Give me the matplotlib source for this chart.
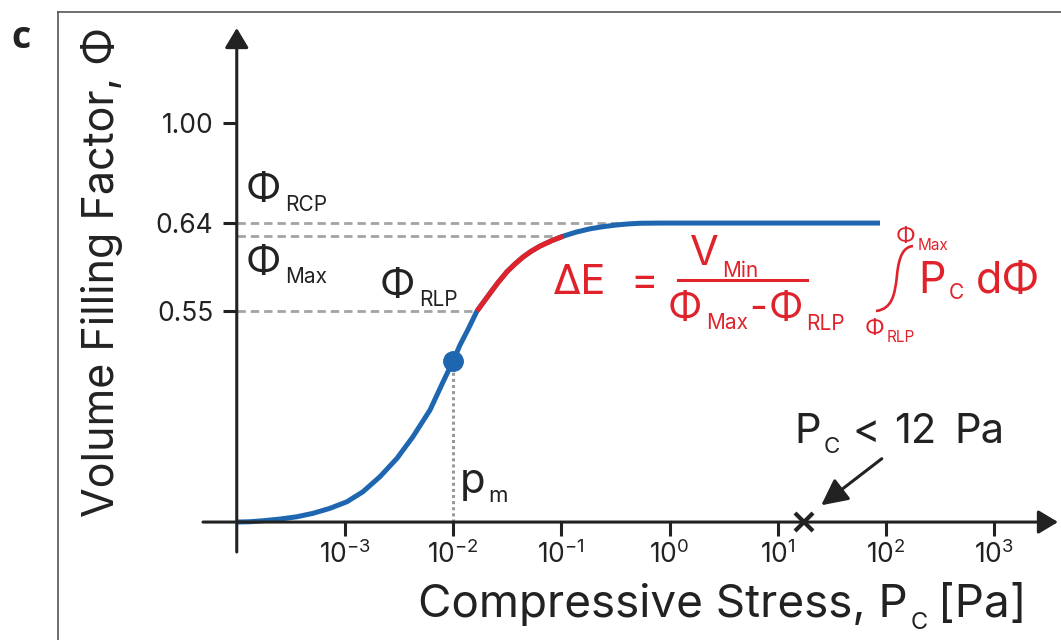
import numpy as np
import matplotlib
matplotlib.use("Agg")
import matplotlib.pyplot as plt
from matplotlib.lines import Line2D
from matplotlib.path import Path
from matplotlib.patches import PathPatch, FancyArrowPatch

# ---------------- data ----------------
stress_exp = [-4.0, -3.878, -3.758, -3.601, -3.444, -3.296, -3.139, -2.982, -2.834,
              -2.677, -2.519, -2.372, -2.214, -2.094, -2.0, -1.937, -1.863, -1.78,
              -1.66, -1.586, -1.503, -1.429, -1.355, -1.281, -1.198, -1.087, -0.985,
              -0.865, -0.736, -0.616, -0.486, -0.384, -0.274, -0.089, 1.945]
phi_curve = [0.0, 0.0008, 0.0034, 0.0078, 0.0138, 0.0227, 0.0357, 0.0529, 0.079,
             0.1181, 0.1661, 0.2224, 0.292, 0.365, 0.42, 0.4614, 0.5018, 0.55,
             0.5681, 0.5791, 0.5902, 0.5981, 0.6052, 0.611, 0.6164, 0.6221, 0.6265,
             0.6307, 0.6341, 0.6363, 0.6381, 0.6391, 0.6398, 0.64, 0.64]
PHI_RCP = 0.64
PHI_MAX = 0.6265
PHI_RLP = 0.55
P_M = 1e-2
PHI_M = 0.42
P_CRIT = 17.5
y_ticks = [0.55, 0.64, 1.00]
y_tick_labels = ["0.55", "0.64", "1.00"]
x_tick_exp = [-3, -2, -1, 0, 1, 2, 3]
x_tick_labels = [r"$\mathregular{10^{%d}}$" % e for e in x_tick_exp]

# schematic (broken) y axis of the original figure
SCALE_PHI = [-1.0, 0.0, 0.55, 0.64, 1.0, 2.0]
SCALE_POS = [-384.0, 0.0, 211.0, 299.0, 399.0, 677.0]

BLUE = "#1f66b0"
RED = "#e0232b"
BLACK = "#222222"
GRAY = "#a3a3a3"
FONT = ["Inter", "Liberation Sans", "DejaVu Sans"]

plt.rcParams["font.family"] = FONT
plt.rcParams["mathtext.fontset"] = "custom"
plt.rcParams["mathtext.rm"] = "Inter"
plt.rcParams["mathtext.default"] = "regular"

W, H = 1061, 640
fig = plt.figure(figsize=(W / 100, H / 100), dpi=100)
fig.patch.set_facecolor("white")
ax = fig.add_axes([203 / W, 1 - 552 / H, 855 / W, 524 / H])
ax.set_facecolor("none")

fwd = lambda v: np.interp(v, SCALE_PHI, SCALE_POS)
inv = lambda p: np.interp(p, SCALE_POS, SCALE_PHI)
ax.set_xscale("log")
ax.set_yscale("function", functions=(fwd, inv))
ax.set_xlim(10 ** -4.312, 10 ** 3.59)
ax.set_ylim(-0.078, 1.342)

P = 10.0 ** np.array(stress_exp)
phi = np.array(phi_curve)

for s in ax.spines.values():
    s.set_visible(False)
ax.spines["left"].set_position(("data", 1e-4))
ax.spines["bottom"].set_position(("data", 0.0))

ax.set_xticks(10.0 ** np.array(x_tick_exp))
ax.set_xticklabels(x_tick_labels)
ax.xaxis.set_minor_locator(matplotlib.ticker.NullLocator())
ax.set_yticks(y_ticks)
ax.set_yticklabels(y_tick_labels)
ax.yaxis.set_minor_locator(matplotlib.ticker.NullLocator())
ax.tick_params(axis="x", direction="out", length=10, width=2.2, color=BLACK,
               pad=3, labelsize=19, labelcolor=BLACK)
ax.tick_params(axis="y", direction="out", length=10, width=2.2, color=BLACK,
               pad=7, labelsize=19, labelcolor=BLACK)

# axis arrows
arrow_kw = dict(arrowstyle="-|>,head_length=0.6,head_width=0.36", lw=2.2,
                color=BLACK, mutation_scale=20, shrinkA=0, shrinkB=0)
ax.annotate("", xy=(1, 0), xytext=(0, 0), xycoords=("axes fraction", "data"),
            textcoords=("axes fraction", "data"), arrowprops=arrow_kw, zorder=5)
ax.annotate("", xy=(1e-4, 1), xytext=(1e-4, 0), xycoords=("data", "axes fraction"),
            textcoords=("data", "axes fraction"), arrowprops=arrow_kw, zorder=5)

# dashed reference lines from the y axis to the curve
for level in (PHI_RCP, PHI_MAX, PHI_RLP):
    p_end = 10 ** np.interp(level, phi[:-1], np.array(stress_exp)[:-1])
    ax.plot([1e-4, p_end], [level, level], color=GRAY, lw=2.0,
            dashes=(3, 1.8), zorder=2)
# dotted line at p_m
ax.plot([P_M, P_M], [0, PHI_M], color="#999999", lw=2.2, ls=(0, (1, 1)), zorder=2)

# curve
ax.plot(P, phi, color=BLUE, lw=3.6, solid_capstyle="butt",
        solid_joinstyle="round", zorder=3)
mask = (phi >= PHI_RLP) & (phi <= PHI_MAX)
ax.plot(P[mask], phi[mask], color=RED, lw=3.6, solid_capstyle="butt",
        solid_joinstyle="round", zorder=4)
ax.plot([P_M], [PHI_M], "o", ms=14, color=BLUE, zorder=5)

# critical stress marker
ax.plot([P_CRIT], [0], marker="x", ms=13, mew=3, color=BLACK, clip_on=False, zorder=6)

# ---------------- text & annotations (figure pixel coordinates) ----------------
def fx(x):
    return x / W

def fy(y):
    return 1 - y / H

def T(x, y, s, size, color=BLACK, ha="left", va="baseline", **kw):
    return fig.text(fx(x), fy(y), s, fontsize=size, color=color, ha=ha, va=va, **kw)

def chain(x, y, pieces, color=BLACK):
    """pieces: (text, size, baseline shift px (down +), gap px before)"""
    txt, size, dy, _ = pieces[0]
    prev = T(x, y + dy, txt, size, color=color)
    for txt, size, dy, gap in pieces[1:]:
        prev = ax.annotate(txt, xy=(1.0, fy(y + dy)), xycoords=(prev, "figure fraction"),
                           xytext=(gap, 0), textcoords="offset pixels",
                           fontsize=size, color=color, ha="left", va="baseline",
                           annotation_clip=False)
    return prev

# frame
fig.add_artist(Line2D([fx(58), fx(58)], [0, fy(12)], transform=fig.transFigure,
                      color="#555555", lw=1.2))
fig.add_artist(Line2D([fx(58), 1], [fy(12), fy(12)], transform=fig.transFigure,
                      color="#555555", lw=1.2))

T(11, 48, "c", 27, fontweight="bold", family=["Open Sans", "DejaVu Sans"])

# axis labels
T(102, 272, "Volume Filling Factor, Φ", 31, ha="center", va="center", rotation=90)
chain(418, 617, [("Compressive Stress, P", 33, 0, 0), ("C", 17, 12, 3),
                 ("[Pa]", 33, 0, 10)])

# phi labels
PH = 29
chain(246, 201, [("Φ", PH, 0, 0), ("RCP", 15, 10, 4)])
chain(246, 274, [("Φ", PH, 0, 0), ("Max", 15, 9, 4)])
chain(380, 297, [("Φ", PH, 0, 0), ("RLP", 15, 9, 4)])
chain(460, 493, [("p", 30, 0, 0), ("m", 16, 9, 3)])

# critical pressure annotation
chain(794, 443, [("P", 30, 0, 0), ("C", 16, 10, 3)])
T(853, 443, "<", 30)
T(894, 443, "12", 30)
T(954, 443, "Pa", 30)
fig.add_artist(FancyArrowPatch(
    (fx(884), fy(457)), (fx(819), fy(507)), transform=fig.transFigure,
    arrowstyle="-|>,head_length=0.8,head_width=0.4", mutation_scale=20,
    lw=2.2, color=BLACK))

# energy equation
T(553, 294, "ΔE", 30, color=RED)
T(630, 294, "=", 30, color=RED)
chain(690, 265, [("V", 30, 0, 0), ("Min", 15, 12, 3)], color=RED)
fig.add_artist(Line2D([fx(678), fx(807)], [fy(280), fy(280)], transform=fig.transFigure,
                      color=RED, lw=2.2))
chain(668, 320, [("Φ", 28, 0, 0), ("Max", 15, 9, 4), ("-", 28, 0, 1),
                 ("Φ", 28, 0, 1), ("RLP", 15, 10, 4)], color=RED)
chain(896, 242, [("Φ", 16, 0, 0), ("Max", 11, 8, 2)], color=RED)
chain(865, 334, [("Φ", 16, 0, 0), ("RLP", 11, 8, 2)], color=RED)
chain(918, 293, [("P", 31, 0, 0), ("C", 15, 6, 3), ("dΦ", 31, 0, 12)], color=RED)
verts = [(913, 246), (904, 247), (899, 255), (897, 275),
         (895, 295), (892, 309), (876, 311)]
codes = [Path.MOVETO, Path.CURVE4, Path.CURVE4, Path.CURVE4,
         Path.CURVE4, Path.CURVE4, Path.CURVE4]
integral = Path([(fx(x), fy(y)) for x, y in verts], codes)
fig.add_artist(PathPatch(integral, transform=fig.transFigure, fill=False,
                         edgecolor=RED, lw=1.9))

fig.savefig("out.png", dpi=100)
